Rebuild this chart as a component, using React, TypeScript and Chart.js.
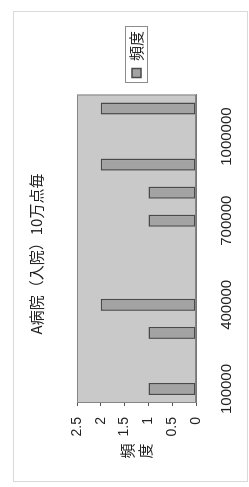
import React, { useEffect, useRef } from 'react';
import { Chart, registerables } from 'chart.js';

Chart.register(...registerables);

// ---- data ----
const categories = ['100000', '200000', '300000', '400000', '500000', '600000', '700000', '800000', '900000', '1000000', '1100000'];
const frequency = [1, 0, 1, 2, 0, 0, 1, 1, 2, 0, 2];
const seriesLabel = '頻度';
const chartTitle = 'A病院（入院）10万点毎';
const valueAxisTitle = ['頻', '度'];
const valueMin = 0;
const valueMax = 2.5;
const valueStep = 0.5;
const labelEvery = 3;

const FONT = '"Liberation Sans", "Noto Sans CJK JP", sans-serif';
const CJK = '"Noto Sans CJK JP", "Liberation Sans", sans-serif';

const W = 487;
const H = 249;

export default function App() {
  const ref = useRef<HTMLCanvasElement>(null);

  useEffect(() => {
    if (!ref.current) return;

    const decor = {
      id: 'decor',
      beforeDraw(chart: any) {
        const ctx = chart.ctx;
        const a = chart.chartArea;
        ctx.save();
        ctx.fillStyle = '#ffffff';
        ctx.fillRect(0, 0, chart.width, chart.height);
        ctx.strokeStyle = '#d9d9d9';
        ctx.lineWidth = 1;
        ctx.strokeRect(5.5, 13.5, 470, 234);
        ctx.fillStyle = '#c9c9c9';
        ctx.fillRect(a.left, a.top, a.right - a.left, a.bottom - a.top);
        ctx.restore();
      },
      afterDraw(chart: any) {
        const ctx = chart.ctx;
        const a = chart.chartArea;
        ctx.save();
        ctx.strokeStyle = '#858585';
        ctx.lineWidth = 1;
        ctx.strokeRect(a.left + 0.5, a.top + 0.5, a.right - a.left - 1, a.bottom - a.top - 1);
        // value axis title, stacked vertically
        ctx.fillStyle = '#222';
        ctx.font = `15px ${CJK}`;
        ctx.textAlign = 'center';
        ctx.textBaseline = 'middle';
        const cy = (a.top + a.bottom) / 2;
        const n = valueAxisTitle.length;
        valueAxisTitle.forEach((ch, i) => {
          ctx.fillText(ch, 36, cy + (i - (n - 1) / 2) * 18);
        });
        // legend frame
        const hb = chart.legend && chart.legend.legendHitBoxes && chart.legend.legendHitBoxes[0];
        if (hb) {
          ctx.strokeStyle = '#8c8c8c';
          ctx.strokeRect(Math.round(hb.left - 5) + 0.5, Math.round(hb.top - 4) + 0.5, Math.round(hb.width + 9), Math.round(hb.height + 7));
        }
        ctx.restore();
      },
    };

    const chart = new Chart(ref.current, {
      type: 'bar',
      data: {
        labels: categories,
        datasets: [
          {
            label: seriesLabel,
            data: frequency,
            backgroundColor: '#a3a3a3',
            borderColor: '#4a4a4a',
            borderWidth: 1.5,
            borderSkipped: false,
            categoryPercentage: 1,
            barPercentage: 0.43,
          },
        ],
      },
      options: {
        responsive: false,
        animation: false,
        layout: { padding: { top: 0, left: 0, right: 21, bottom: 0 } },
        plugins: {
          title: {
            display: true,
            text: chartTitle,
            color: '#222',
            font: { family: CJK, size: 15, weight: 'normal' },
            padding: { top: 27, bottom: 32 },
          },
          legend: {
            position: 'right',
            fullSize: false,
            labels: {
              boxWidth: 9,
              boxHeight: 9,
              padding: 17,
              color: '#222',
              font: { family: CJK, size: 15 },
            },
          },
          tooltip: { enabled: false },
        },
        scales: {
          x: {
            offset: true,
            grid: { display: false, offset: true },
            border: { display: true, color: '#777' },
            ticks: {
              autoSkip: false,
              maxRotation: 0,
              minRotation: 0,
              padding: 14,
              color: '#222',
              font: { family: FONT, size: 15 },
              callback: (_v: any, i: number) => (i % labelEvery === 0 ? categories[i] : ''),
            },
            afterFit: (s: any) => {
              s.height = 53;
            },
          },
          y: {
            min: valueMin,
            max: valueMax,
            grid: { display: true, drawOnChartArea: false, tickLength: 3, color: '#555' },
            border: { display: true, color: '#777' },
            ticks: {
              stepSize: valueStep,
              padding: 11,
              color: '#222',
              font: { family: FONT, size: 14 },
              callback: (v: any) => String(Number(v)),
            },
            afterFit: (s: any) => {
              s.width = 84;
            },
          },
        },
      },
      plugins: [decor],
    });

    return () => chart.destroy();
  }, []);

  return (
    <div style={{ position: 'absolute', left: 0, top: 0, width: 249, height: 487, overflow: 'hidden', background: '#fff' }}>
      <div
        style={{
          position: 'absolute',
          left: 0,
          top: 0,
          width: W,
          height: H,
          transformOrigin: '0 0',
          transform: `translate(0px, ${W}px) rotate(-90deg)`,
        }}
      >
        <canvas ref={ref} width={W} height={H} style={{ display: 'block' }} />
      </div>
    </div>
  );
}
